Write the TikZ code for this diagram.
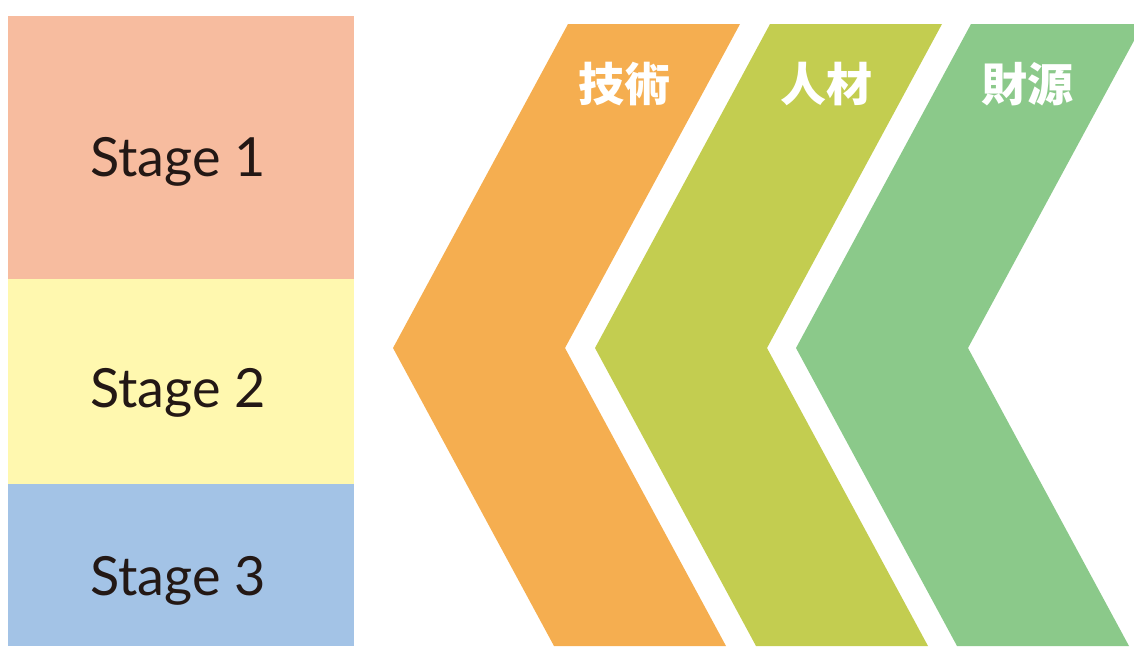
\documentclass[tikz,border=0pt]{standalone}
\usepackage{fontspec}
\setmainfont{Lato}
\newfontfamily\cjk{Noto Sans CJK TC}

\definecolor{peach}{HTML}{F7BC9F}
\definecolor{cream}{HTML}{FFF8AF}
\definecolor{sky}{HTML}{A3C3E6}
\definecolor{orng}{HTML}{F5AE50}
\definecolor{lime}{HTML}{C3CD50}
\definecolor{leaf}{HTML}{8BC98A}
\definecolor{ink}{HTML}{231815}

\begin{document}
\begin{tikzpicture}[x=1pt,y=-1pt,
                    stagelabel/.style={anchor=base,text=ink,font=\fontsize{54}{54}\selectfont},
                    chevlabel/.style={anchor=base,text=white,font=\cjk\bfseries\fontsize{46}{46}\selectfont}]

                    \useasboundingbox (0,0) rectangle (1134,646);
                    \clip (0,0) rectangle (1134,646);

                    \fill[peach] (8,16) rectangle (354,279);
                    \fill[cream] (8,279) rectangle (354,484);
                    \fill[sky] (8,484) rectangle (354,646);

                    \node[stagelabel] (stage1) at (178,176) {Stage 1};
                    \node[stagelabel] (stage2) at (178,407) {Stage 2};
                    \node[stagelabel] (stage3) at (178,595) {Stage 3};

                    \foreach \dx/\col/\lbl/\nm in {0/orng/技術/tech, 202/lime/人材/staff, 403/leaf/財源/fund}{
                        \fill[\col] (568+\dx,24) -- (740+\dx,24) -- (565+\dx,348) -- (726+\dx,646)
                                    -- (554+\dx,646) -- (393+\dx,348) -- cycle;
                        \node[chevlabel] (\nm) at (624+\dx,101) {\lbl};
                    }

                \end{tikzpicture}
\end{document}
